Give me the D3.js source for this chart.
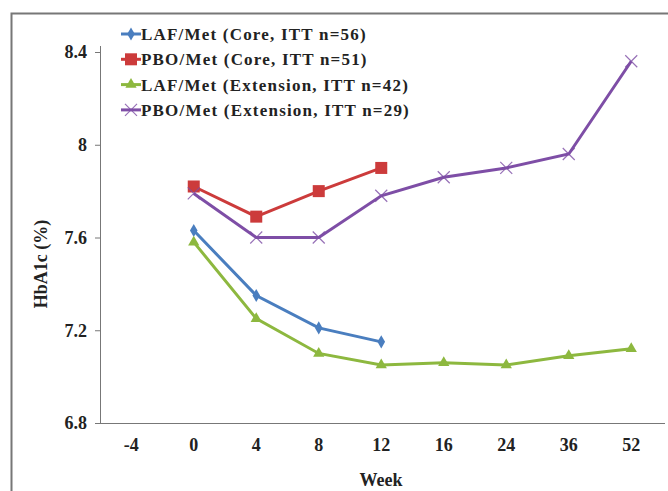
<!DOCTYPE html>
<html><head><meta charset="utf-8">
<script src="https://cdn.jsdelivr.net/npm/d3@7"></script>
<style>
html,body{margin:0;padding:0;background:#fff;}
svg{display:block;}
text{font-family:"Liberation Serif","Times New Roman",serif;font-weight:bold;fill:#222;}
</style></head>
<body><svg id="c" width="668" height="491"></svg>
<script>
const weeks = ["-4","0","4","8","12","16","24","36","52"];
const yTicks = [6.8, 7.2, 7.6, 8, 8.4];
const seriesNames = ["LAF/Met (Core, ITT n=56)","PBO/Met (Core, ITT n=51)","LAF/Met (Extension, ITT n=42)","PBO/Met (Extension, ITT n=29)"];
const lafCoreWeeks = ["0","4","8","12"];
const lafCore = [7.63, 7.35, 7.21, 7.15];
const pboCoreWeeks = ["0","4","8","12"];
const pboCore = [7.82, 7.69, 7.80, 7.90];
const lafExtWeeks = ["0","4","8","12","16","24","36","52"];
const lafExt = [7.58, 7.25, 7.10, 7.05, 7.06, 7.05, 7.09, 7.12];
const pboExtWeeks = ["0","4","8","12","16","24","36","52"];
const pboExt = [7.79, 7.60, 7.60, 7.78, 7.86, 7.90, 7.96, 8.36];
const colors = ["#4a7ebf","#cc3b3b","#8db83f","#7e4ea6"];
const symbols = ["diamond","square","triangle","cross"];

const svg = d3.select("#c");
// frame
svg.append("path").attr("d","M11.5,491 V13.5 H668").attr("fill","none").attr("stroke","#777").attr("stroke-width",2);

const x = d3.scaleBand().domain(weeks).range([100, 662.5]);
const y = d3.scaleLinear().domain([6.8, 8.4]).range([423, 52]);
const cx = w => x(w) + x.bandwidth()/2;

// y axis
const ya = svg.append("g").attr("transform","translate(100,0)")
  .call(d3.axisLeft(y).tickValues(yTicks).tickFormat(d3.format("")).tickSize(5).tickPadding(8));
ya.select(".domain").attr("stroke","#777").attr("d","M-5,423.5H0.5V46");
ya.selectAll(".tick line").attr("stroke","#777");
ya.selectAll(".tick text").style("font-size","18px").attr("fill","#222");

// x axis
const xa = svg.append("g").attr("transform","translate(0,423)")
  .call(d3.axisBottom(x).tickSize(0).tickPadding(15));
xa.select(".domain").attr("stroke","#777").attr("d","M100,0.5H665");
xa.selectAll(".tick text").style("font-size","18px").attr("fill","#222");

svg.append("text").attr("transform","translate(47,264) rotate(-90)").attr("text-anchor","middle")
  .style("font-size","18px").text("HbA1c (%)");
svg.append("text").attr("x",381).attr("y",486).attr("text-anchor","middle").style("font-size","18px").text("Week");

const allSeries = [
  {w: lafCoreWeeks, v: lafCore},
  {w: pboCoreWeeks, v: pboCore},
  {w: lafExtWeeks, v: lafExt},
  {w: pboExtWeeks, v: pboExt}
];
const line = d3.line().x(d => cx(d[0])).y(d => y(d[1]));

function marker(g, i, px, py) {
  const c = colors[i];
  if (symbols[i] === "diamond") {
    g.append("path").attr("d", d3.symbol(d3.symbolDiamond, 50)()).attr("transform",`translate(${px},${py})`).attr("fill",c);
  } else if (symbols[i] === "square") {
    g.append("rect").attr("x",px-6).attr("y",py-6).attr("width",12).attr("height",12).attr("fill",c);
  } else if (symbols[i] === "triangle") {
    g.append("path").attr("d", d3.symbol(d3.symbolTriangle, 55)()).attr("transform",`translate(${px},${py})`).attr("fill",c);
  } else {
    g.append("path").attr("d",`M${px-6},${py-6}L${px+6},${py+6}M${px-6},${py+6}L${px+6},${py-6}`).attr("stroke",c).attr("stroke-width",1.2).attr("opacity",0.8);
  }
}

allSeries.forEach((s, i) => {
  const pts = s.w.map((w, k) => [w, s.v[k]]);
  svg.append("path").datum(pts).attr("d", line).attr("fill","none").attr("stroke",colors[i]).attr("stroke-width",3);
  const g = svg.append("g");
  pts.forEach(p => marker(g, i, cx(p[0]), y(p[1])));
});

// legend
const lg = svg.append("g");
seriesNames.forEach((n, i) => {
  const ly = 34 + i * 25.3;
  lg.append("line").attr("x1",121).attr("x2",141).attr("y1",ly).attr("y2",ly).attr("stroke",colors[i]).attr("stroke-width",3);
  marker(lg, i, 131, ly);
  lg.append("text").attr("x",141).attr("y",ly+6).style("font-size","17px").style("letter-spacing","1.2px").text(n);
});
</script></body></html>
